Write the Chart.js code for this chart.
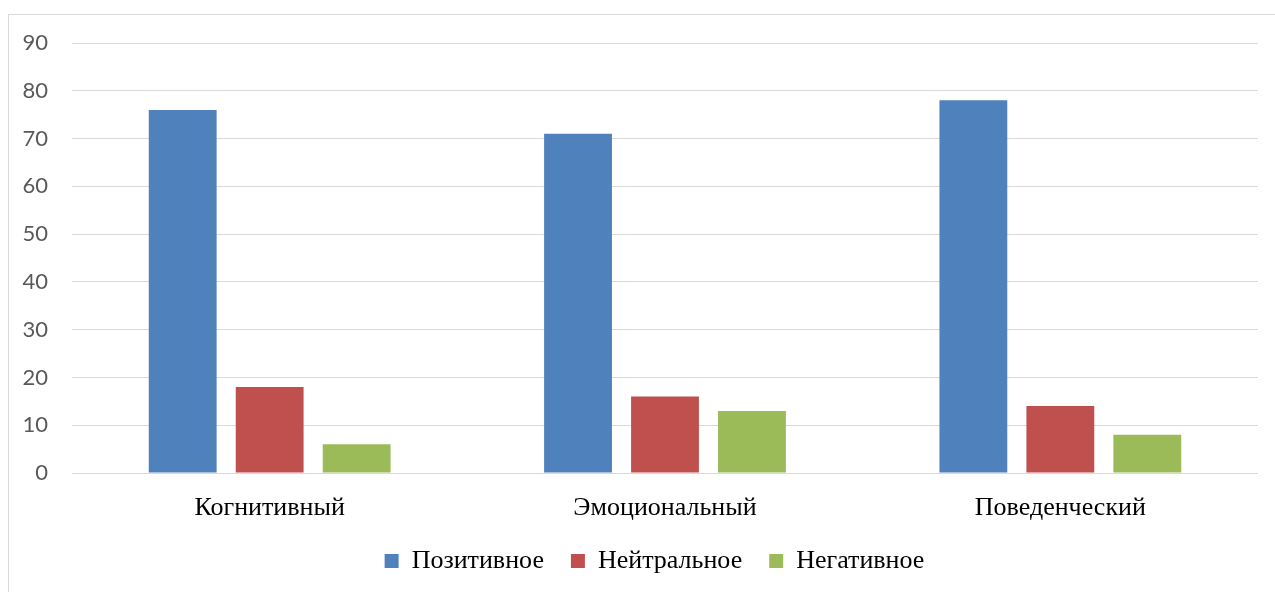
<!DOCTYPE html>
<html>
<head>
<meta charset="utf-8">
<script src="https://cdn.jsdelivr.net/npm/chart.js@4/dist/chart.umd.min.js"></script>
<style>
  body { margin: 0; background: #fff; overflow: hidden; }
  #frame { position: absolute; left: 8px; top: 14px; width: 1400px; height: 700px; border: 1px solid #d9d9d9; }
  #wrap { position: absolute; left: 0; top: 0; width: 1275px; height: 592px; }
</style>
</head>
<body>
<div id="frame"></div>
<div id="wrap"><canvas id="myChart"></canvas></div>
<script>
// Kategorien und Werte
const categories = ['Когнитивный', 'Эмоциональный', 'Поведенческий'];
const seriesNames = ['Позитивное', 'Нейтральное', 'Негативное'];
const positive = [76, 71, 78];
const neutral = [18, 16, 14];
const negative = [6, 13, 8];
const colors = ['#4f81bd', '#c0504d', '#9bbb59'];

const serif = '"Liberation Serif", "Times New Roman", serif';

const data = {
    labels: categories,
    datasets: [positive, neutral, negative].map((vals, i) => ({
        label: seriesNames[i],
        data: vals,
        backgroundColor: colors[i],
        categoryPercentage: 0.66,
        barPercentage: 0.78
    }))
};

// Legende etwas nach rechts schieben (wie im Original)
const legendShift = {
    id: 'legendShift',
    afterLayout(chart) {
        chart.legend.left += 21;
        chart.legend.right += 21;
    }
};

const config = {
    type: 'bar',
    data: data,
    plugins: [legendShift],
    options: {
        responsive: true,
        maintainAspectRatio: false,
        animation: false,
        layout: { padding: { left: 9, right: 17, top: 43, bottom: 8 } },
        plugins: {
            tooltip: { enabled: false },
            legend: {
                position: 'bottom',
                labels: {
                    boxWidth: 14,
                    boxHeight: 14,
                    padding: 27,
                    color: '#000',
                    font: { family: serif, size: 26 }
                }
            }
        },
        scales: {
            x: {
                grid: { display: false },
                border: { display: false },
                ticks: { color: '#000', font: { family: serif, size: 26 }, padding: 12 },
                afterFit: (axis) => { axis.height = 48; }
            },
            y: {
                min: 0,
                max: 90,
                ticks: { stepSize: 10, color: '#595959', font: { family: 'Lato, "Liberation Sans", sans-serif', size: 22 }, padding: 24 },
                grid: { color: '#d9d9d9', lineWidth: 1, drawTicks: false },
                border: { display: false },
                afterFit: (axis) => { axis.width = 63; }
            }
        }
    }
};

const chart = new Chart(document.getElementById('myChart'), config);
</script>
</body>
</html>
